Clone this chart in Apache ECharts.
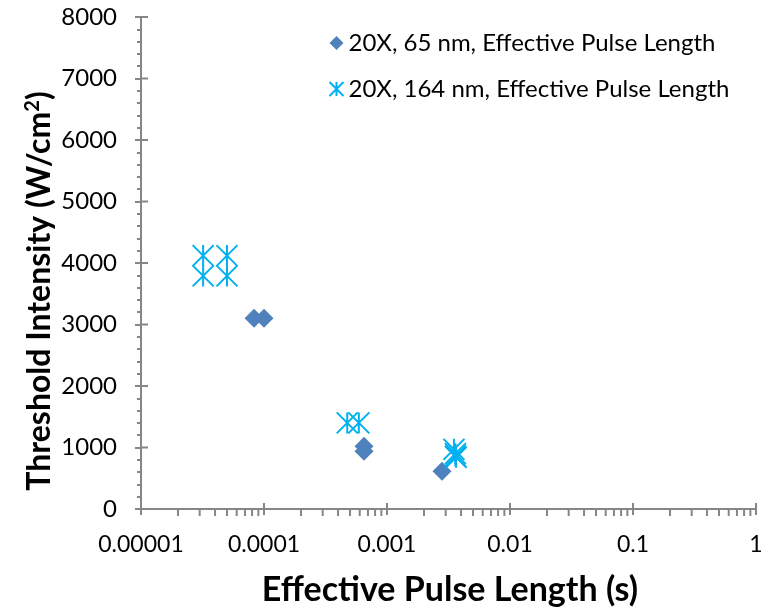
<!DOCTYPE html>
<html><head><meta charset="utf-8">
<script src="https://cdn.jsdelivr.net/npm/echarts@6/dist/echarts.min.js"></script>
<style>html,body{margin:0;padding:0;background:#fff}#c{width:768px;height:607px}</style>
</head><body><div id="c"></div>
<script>
// ---- data ----
const seriesNames = ['20X, 65 nm, Effective Pulse Length', '20X, 164 nm, Effective Pulse Length'];
const pulse65 = [[8.3e-5, 3100], [1.0e-4, 3100], [6.5e-4, 1020], [6.5e-4, 940], [2.8e-3, 615]];
const pulse164 = [[3.2e-5, 4120], [3.2e-5, 3790], [5.0e-5, 4120], [5.0e-5, 3790],
                  [4.75e-4, 1400], [5.9e-4, 1400],
                  [3.5e-3, 970], [3.6e-3, 900], [3.6e-3, 860], [3.65e-3, 840]];
const xTickValues = [1e-5, 1e-4, 1e-3, 1e-2, 1e-1, 1];
const xTickLabels = ['0.00001', '0.0001', '0.001', '0.01', '0.1', '1'];
const xMinorMultipliers = [2, 3, 4, 5, 6, 7, 8, 9];
const yTickValues = [0, 1000, 2000, 3000, 4000, 5000, 6000, 7000, 8000];

const FONT = 'Lato';
const axisColor = '#868686';
const xMinor = [];
xTickValues.slice(0, -1).forEach(d => xMinorMultipliers.forEach(m => xMinor.push([d * m, 0])));

const asterisk = 'path://M0,0L20,20M20,0L0,20M10,0L10,20';
const diamond = 'path://M10,0L20,10L10,20L0,10Z';

const chart = echarts.init(document.getElementById('c'));
chart.setOption({
  animation: false,
  textStyle: { fontFamily: FONT },
  grid: { left: 141, right: 12, top: 17, bottom: 98, containLabel: false },
  legend: {
    orient: 'vertical', left: 322, top: 25, itemWidth: 14, itemHeight: 14, itemGap: 20,
    textStyle: { fontFamily: FONT, fontSize: 24, color: '#000', lineHeight: 26 },
    data: [
      { name: seriesNames[0], icon: diamond, itemStyle: { color: '#4F81BD' } },
      { name: seriesNames[1], icon: asterisk, itemStyle: { color: 'none', borderColor: '#00B0F0', borderWidth: 2 } }
    ]
  },
  xAxis: {
    type: 'log', logBase: 10, min: 1e-5, max: 1,
    axisLine: { lineStyle: { color: axisColor, width: 2 } },
    axisTick: { show: true, length: 6, lineStyle: { color: axisColor, width: 2 } },
    splitLine: { show: false },
    axisLabel: {
      margin: 24, fontSize: 23, color: '#000', fontFamily: FONT,
      formatter: v => xTickLabels[Math.round(Math.log10(v)) + 5]
    }
  },
  yAxis: {
    type: 'value', min: 0, max: 8000, interval: 1000,
    axisLine: { show: true, lineStyle: { color: axisColor, width: 2 } },
    axisTick: { show: true, length: 6, lineStyle: { color: axisColor, width: 2 } },
    minorTick: { show: true, splitNumber: 5, length: 4, lineStyle: { color: axisColor, width: 2 } },
    splitLine: { show: false },
    axisLabel: { margin: 24, fontSize: 24, color: '#000', fontFamily: FONT, formatter: v => String(v) }
  },
  graphic: [
    {
      type: 'text', x: 40, y: 291, rotation: Math.PI / 2,
      style: {
        text: 'Threshold Intensity (W/cm{sup|2})', align: 'center', verticalAlign: 'middle',
        font: 'bold 32px ' + FONT, fill: '#000',
        rich: { sup: { font: 'bold 20px ' + FONT, verticalAlign: 'top', padding: [0, 0, 14, 0] } }
      }
    },
    {
      type: 'text', x: 450, y: 590,
      style: {
        text: 'Effective Pulse Length (s)', align: 'center', verticalAlign: 'middle',
        font: 'bold 34px ' + FONT, fill: '#000'
      }
    }
  ],
  series: [
    {
      name: seriesNames[0], type: 'scatter', data: pulse65, symbol: diamond, symbolSize: 19,
      itemStyle: { color: '#4F81BD', opacity: 1 }, z: 3
    },
    {
      name: seriesNames[1], type: 'scatter', data: pulse164, symbol: asterisk, symbolSize: 21,
      itemStyle: { color: 'none', borderColor: '#00B0F0', borderWidth: 2, opacity: 1 }, z: 4
    },
    {
      name: 'xminor', type: 'scatter', data: xMinor, symbol: 'rect', symbolSize: [2, 6],
      symbolOffset: [0, 4], clip: false, silent: true, itemStyle: { color: axisColor, opacity: 1 }, z: 1
    },
    {
      name: 'xmajorIn', type: 'scatter', data: xTickValues.map(v => [v, 0]), symbol: 'rect', symbolSize: [2, 6],
      symbolOffset: [0, -3], clip: false, silent: true, itemStyle: { color: axisColor, opacity: 1 }, z: 1
    },
    {
      name: 'ymajorIn', type: 'scatter', data: yTickValues.map(v => [1e-5, v]), symbol: 'rect', symbolSize: [7, 2],
      symbolOffset: [3.5, 0], clip: false, silent: true, itemStyle: { color: axisColor, opacity: 1 }, z: 1
    }
  ]
});
</script></body></html>
